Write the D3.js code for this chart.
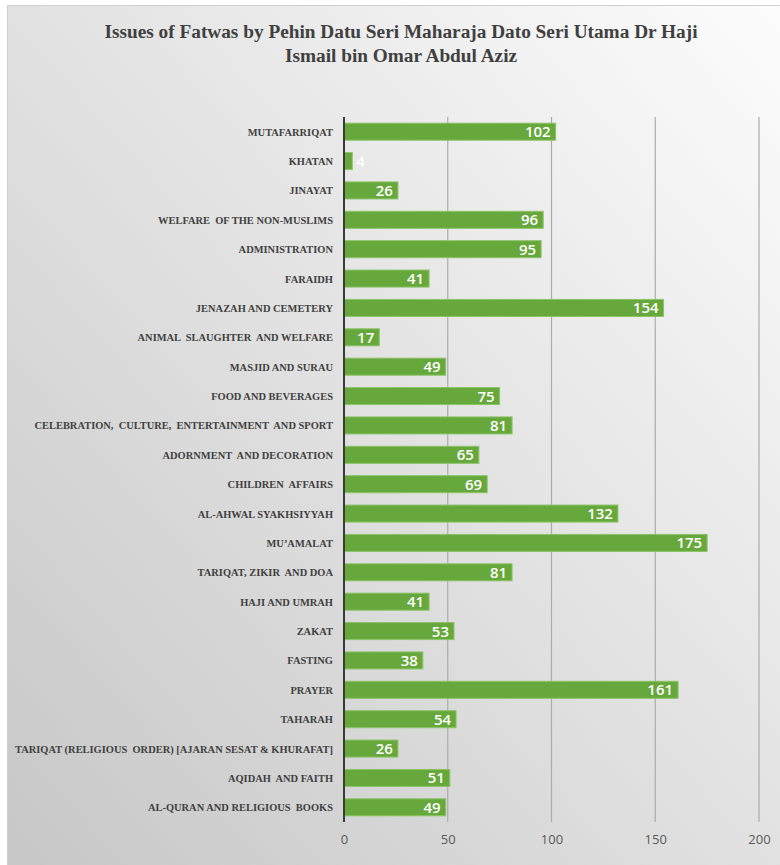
<!DOCTYPE html>
<html><head><meta charset="utf-8">
<script src="https://cdn.jsdelivr.net/npm/d3@7"></script>
<style>body{margin:0;background:#fff}svg{display:block}</style>
</head><body>
<svg id="c" width="780" height="865"></svg>
<script>
const categories = ["MUTAFARRIQAT","KHATAN","JINAYAT","WELFARE  OF THE NON-MUSLIMS","ADMINISTRATION","FARAIDH","JENAZAH AND CEMETERY","ANIMAL  SLAUGHTER  AND WELFARE","MASJID AND SURAU","FOOD AND BEVERAGES","CELEBRATION,  CULTURE,  ENTERTAINMENT  AND SPORT","ADORNMENT  AND DECORATION","CHILDREN  AFFAIRS","AL-AHWAL SYAKHSIYYAH","MU’AMALAT","TARIQAT, ZIKIR  AND DOA","HAJI AND UMRAH","ZAKAT","FASTING","PRAYER","TAHARAH","TARIQAT (RELIGIOUS  ORDER) [AJARAN SESAT & KHURAFAT]","AQIDAH  AND FAITH","AL-QURAN AND RELIGIOUS  BOOKS"];
const values = [102,4,26,96,95,41,154,17,49,75,81,65,69,132,175,81,41,53,38,161,54,26,51,49];
const tickValues = [0,50,100,150,200];
const titleLines = ["Issues of Fatwas by Pehin Datu Seri Maharaja Dato Seri Utama Dr Haji","Ismail bin Omar Abdul Aziz"];

const svg = d3.select("#c");
const defs = svg.append("defs");
const g = defs.append("linearGradient").attr("id","bg").attr("x1","100%").attr("y1","0%").attr("x2","0%").attr("y2","100%");
g.append("stop").attr("offset","0%").attr("stop-color","#fdfdfd");
g.append("stop").attr("offset","100%").attr("stop-color","#c6c6c6");
svg.append("rect").attr("x",7.5).attr("y",5.5).attr("width",790).attr("height",880).attr("fill","url(#bg)").attr("stroke","#d0d0d0");

svg.selectAll("text.title").data(titleLines).enter().append("text")
  .attr("x",401).attr("y",(d,i)=>38+i*24).attr("text-anchor","middle")
  .attr("font-family","'Liberation Serif','DejaVu Serif',serif").attr("font-weight","bold")
  .attr("font-size",19.3).attr("fill","#404040").text(d=>d);

const x = d3.scaleLinear().domain([0,200]).range([344,759]);
const y = d3.scaleBand().domain(categories).range([117,822]).paddingInner(0.42).paddingOuter(0.21);

// gridlines
svg.append("g").selectAll("line").data(tickValues.slice(1)).enter().append("line")
  .attr("x1",d=>x(d)).attr("x2",d=>x(d)).attr("y1",117).attr("y2",822)
  .attr("stroke","#ababab").attr("stroke-width",1.2);

// bars
svg.append("g").selectAll("rect").data(values).enter().append("rect")
  .attr("x",x(0)).attr("y",(d,i)=>y(categories[i]))
  .attr("width",d=>x(d)-x(0)).attr("height",y.bandwidth())
  .attr("fill","#67a83c").attr("stroke","#8cc468").attr("stroke-width",1);

// axis line
svg.append("line").attr("x1",x(0)).attr("x2",x(0)).attr("y1",117).attr("y2",822).attr("stroke","#3a3a3a").attr("stroke-width",2);

// value labels
svg.append("g").selectAll("text").data(values).enter().append("text")
  .attr("x",d=>{const w=String(d).length*8.6; return (x(d)-x(0)-5>w)? x(d)-5 : x(d)+4;})
  .attr("text-anchor",d=>{const w=String(d).length*8.6; return (x(d)-x(0)-5>w)?"end":"start";})
  .attr("y",(d,i)=>y(categories[i])+y.bandwidth()/2+5.5)
  .attr("font-family","'Open Sans',sans-serif").attr("font-weight","600").attr("font-size",15)
  .attr("fill","#ffffff").text(d=>d);

// category labels
svg.append("g").selectAll("text").data(categories).enter().append("text")
  .attr("transform",d=>`translate(333,${y(d)+y.bandwidth()/2+4}) scale(0.95,1)`)
  .attr("text-anchor","end")
  .attr("font-family","'Liberation Serif',serif").attr("font-weight","bold").attr("font-size",11)
  .attr("fill","#404040").style("white-space","pre").text(d=>d);

// x axis
const xa = svg.append("g").attr("transform","translate(0,822)").call(d3.axisBottom(x).tickValues(tickValues).tickSize(0).tickPadding(13));
xa.select(".domain").remove();
xa.selectAll("text").attr("font-family","'Open Sans',sans-serif").attr("font-size",13).attr("fill","#595959");
</script>
</body></html>
